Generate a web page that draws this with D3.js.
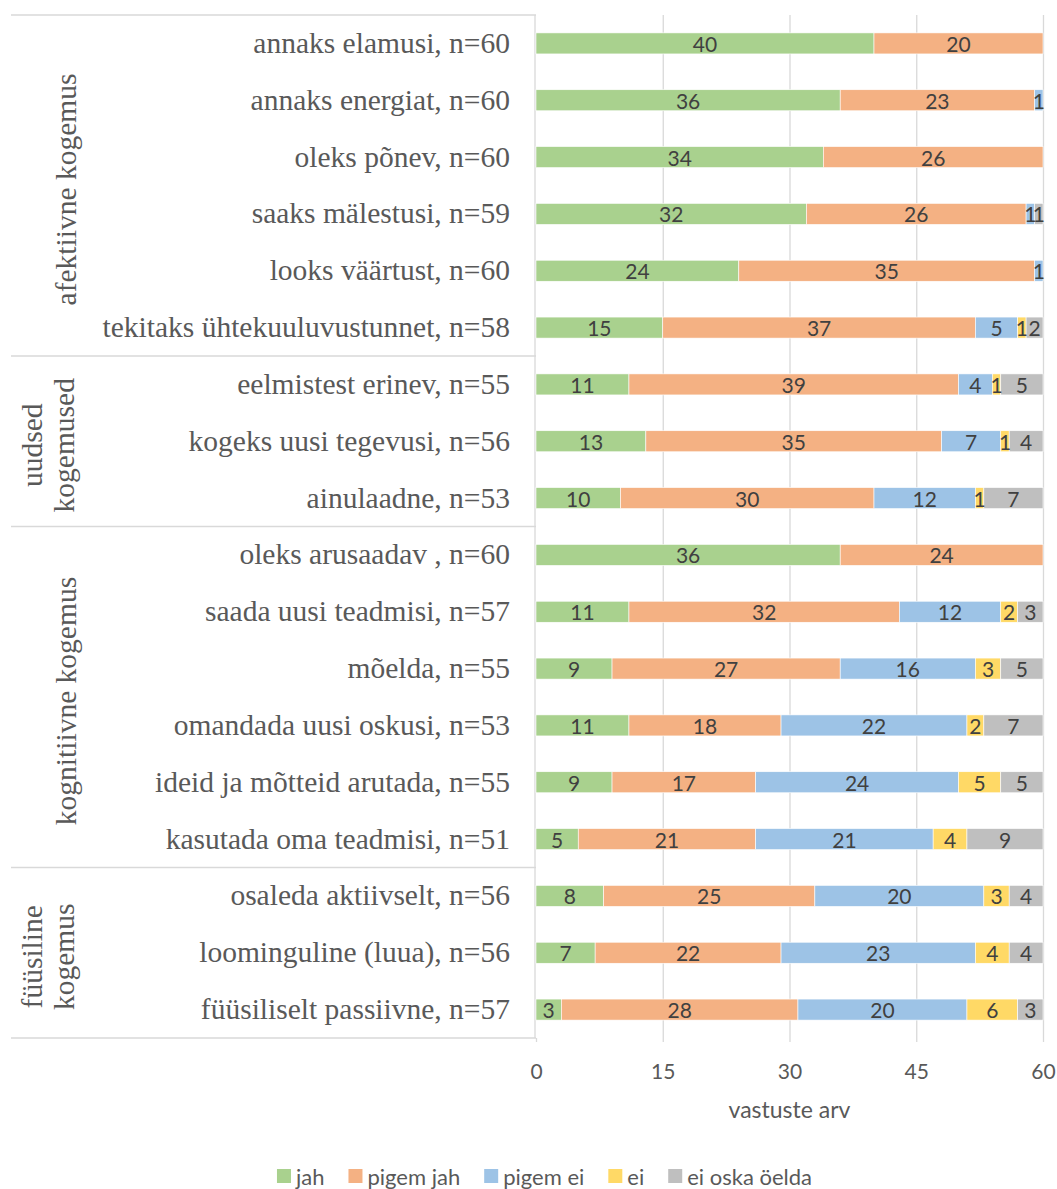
<!DOCTYPE html>
<html>
<head>
<meta charset="utf-8">
<script src="https://cdn.jsdelivr.net/npm/d3@7"></script>
<style>
  html, body { margin: 0; padding: 0; background: #fff; }
  svg { display: block; }
</style>
</head>
<body>
<svg id="chart" width="1057" height="1189"></svg>
<script>
// Survey statements (top to bottom) and answer counts per answer option
const categories = [
  "annaks elamusi, n=60",
  "annaks energiat, n=60",
  "oleks põnev, n=60",
  "saaks mälestusi, n=59",
  "looks väärtust, n=60",
  "tekitaks ühtekuuluvustunnet, n=58",
  "eelmistest erinev, n=55",
  "kogeks uusi tegevusi, n=56",
  "ainulaadne, n=53",
  "oleks arusaadav , n=60",
  "saada uusi teadmisi, n=57",
  "mõelda, n=55",
  "omandada uusi oskusi, n=53",
  "ideid ja mõtteid arutada, n=55",
  "kasutada oma teadmisi, n=51",
  "osaleda aktiivselt, n=56",
  "loominguline (luua), n=56",
  "füüsiliselt passiivne, n=57"
];

const jah       = [40, 36, 34, 32, 24, 15, 11, 13, 10, 36, 11,  9, 11,  9,  5,  8,  7,  3];
const pigemJah  = [20, 23, 26, 26, 35, 37, 39, 35, 30, 24, 32, 27, 18, 17, 21, 25, 22, 28];
const pigemEi   = [ 0,  1,  0,  1,  1,  5,  4,  7, 12,  0, 12, 16, 22, 24, 21, 20, 23, 20];
const ei        = [ 0,  0,  0,  0,  0,  1,  1,  1,  1,  0,  2,  3,  2,  5,  4,  3,  4,  6];
const eiOska    = [ 0,  0,  0,  1,  0,  2,  5,  4,  7,  0,  3,  5,  7,  5,  9,  4,  4,  3];

const seriesNames = ["jah", "pigem jah", "pigem ei", "ei", "ei oska öelda"];
const seriesColors = ["#A9D18E", "#F4B183", "#9DC3E6", "#FFD966", "#BFBFBF"];

// Statement groups: label lines and [first, last) row index
const groups = [
  { lines: ["afektiivne kogemus"], from: 0, to: 6 },
  { lines: ["uudsed", "kogemused"], from: 6, to: 9 },
  { lines: ["kognitiivne kogemus"], from: 9, to: 15 },
  { lines: ["füüsiline", "kogemus"], from: 15, to: 18 }
];

const xTicks = [0, 15, 30, 45, 60];
const axisTitle = "vastuste arv";

// ---- layout ----
const plotLeft = 536, plotRight = 1043, plotTop = 15, plotBottom = 1038;
const boxLeft = 11;
const sansFont = "Lato, 'Open Sans', sans-serif";
const serifFont = "'Liberation Serif', 'Times New Roman', serif";
const textGray = "#595959";
const gridGray = "#d9d9d9";

const svg = d3.select("#chart");

const x = d3.scaleLinear().domain([0, 60]).range([plotLeft, plotRight]);
const pad = 0.63;
const y = d3.scaleBand().domain(categories).range([plotTop, plotBottom])
  .paddingInner(pad).paddingOuter(pad / 2);

// stacked data
const rows = categories.map((c, i) => ({
  cat: c,
  values: [jah[i], pigemJah[i], pigemEi[i], ei[i], eiOska[i]]
}));
const stackKeys = d3.range(seriesNames.length);
const stacked = d3.stack()
  .keys(stackKeys)
  .value((d, k) => d.values[k])(rows);

// vertical gridlines
const grid = svg.append("g")
  .attr("transform", `translate(0,${plotBottom})`)
  .call(d3.axisBottom(x).tickValues(xTicks.slice(1)).tickSize(-(plotBottom - plotTop)).tickFormat(""));
grid.select(".domain").remove();
grid.selectAll("line").attr("stroke", gridGray).attr("stroke-width", 1.3);

// x tick marks below the plot and tick labels
const xAxis = svg.append("g")
  .attr("transform", `translate(0,${plotBottom})`)
  .call(d3.axisBottom(x).tickValues(xTicks).tickSize(4).tickPadding(22).tickFormat(d3.format("d")));
xAxis.select(".domain").remove();
xAxis.selectAll("line").attr("stroke", gridGray).attr("stroke-width", 1.3);
xAxis.selectAll("text")
  .attr("fill", textGray)
  .style("font-family", sansFont)
  .style("font-size", "21px");

// axis title
svg.append("text")
  .attr("x", (plotLeft + plotRight) / 2)
  .attr("y", 1118)
  .attr("text-anchor", "middle")
  .attr("fill", textGray)
  .style("font-family", sansFont)
  .style("font-size", "23px")
  .text(axisTitle);

// category box: vertical axis line, horizontal separators
const step = y.step();
const edgeY = i => i === categories.length ? plotBottom : y(categories[i]) - step * pad / 2;
const sepIdx = [0].concat(groups.map(g => g.to));
svg.append("g").selectAll("line").data(sepIdx).join("line")
  .attr("x1", boxLeft).attr("x2", plotLeft)
  .attr("y1", d => edgeY(d)).attr("y2", d => edgeY(d))
  .attr("stroke", gridGray).attr("stroke-width", 1.3);
svg.append("line")
  .attr("x1", plotLeft - 1).attr("x2", plotLeft - 1)
  .attr("y1", plotTop).attr("y2", plotBottom)
  .attr("stroke", gridGray).attr("stroke-width", 1.3);

// category labels
const yAxis = svg.append("g")
  .attr("transform", `translate(${plotLeft},0)`)
  .call(d3.axisLeft(y).tickSize(0).tickPadding(26));
yAxis.select(".domain").remove();
yAxis.selectAll("text")
  .attr("fill", textGray)
  .style("font-family", serifFont)
  .style("font-size", "29.5px");

// group labels, rotated
const groupG = svg.append("g");
groups.forEach(g => {
  const cy = (edgeY(g.from) + edgeY(g.to)) / 2 + 4;
  const xs = g.lines.length === 1 ? [66] : [32, 64];
  g.lines.forEach((line, li) => {
    groupG.append("text")
      .attr("transform", `translate(${xs[li]},${cy}) rotate(-90)`)
      .attr("text-anchor", "middle")
      .attr("dominant-baseline", "central")
      .attr("fill", textGray)
      .style("font-family", serifFont)
      .style("font-size", "29.5px")
      .text(line);
  });
});

// bars
const layers = svg.append("g").selectAll("g").data(stacked).join("g")
  .attr("fill", (d, i) => seriesColors[i]);
layers.selectAll("rect").data(d => d).join("rect")
  .attr("x", d => x(d[0]))
  .attr("y", d => y(d.data.cat))
  .attr("width", d => x(d[1]) - x(d[0]))
  .attr("height", y.bandwidth())
  .attr("stroke", "#fff")
  .attr("stroke-width", 0.6);

// data labels
const labelG = svg.append("g");
stacked.forEach((layer, si) => {
  labelG.append("g").selectAll("text")
    .data(layer.filter(d => d[1] - d[0] > 0))
    .join("text")
    .attr("x", d => (x(d[0]) + x(d[1])) / 2)
    .attr("y", d => y(d.data.cat) + y.bandwidth() / 2)
    .attr("text-anchor", "middle")
    .attr("dominant-baseline", "central")
    .attr("fill", "#404040")
    .style("font-family", sansFont)
    .style("font-size", "21px")
    .text(d => d[1] - d[0]);
});

// legend
const legend = svg.append("g");
const legendY = 1176, sw = 14, swGap = 5, itemGap = 24;
let cx = 0;
seriesNames.forEach((name, i) => {
  const g = legend.append("g");
  g.append("rect").attr("x", 0).attr("y", legendY - sw / 2).attr("width", sw).attr("height", sw)
    .attr("fill", seriesColors[i]);
  const t = g.append("text").attr("x", sw + swGap).attr("y", legendY)
    .attr("dominant-baseline", "central")
    .attr("fill", textGray)
    .style("font-family", sansFont)
    .style("font-size", "22px")
    .text(name);
  const w = sw + swGap + t.node().getComputedTextLength();
  g.attr("transform", `translate(${cx},0)`);
  cx += w + itemGap;
});
const totalW = cx - itemGap;
legend.attr("transform", `translate(${544.5 - totalW / 2},0)`);
</script>
</body>
</html>
